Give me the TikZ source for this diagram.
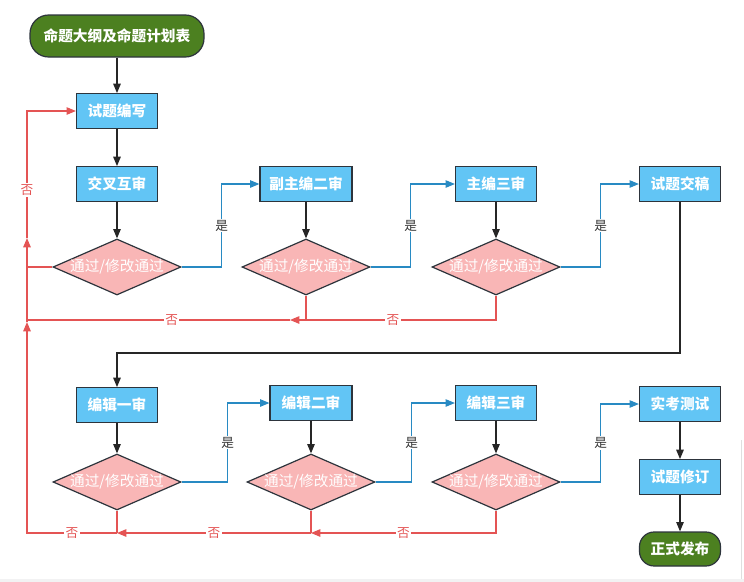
\documentclass[tikz,border=0pt]{standalone}
\usepackage{fontspec}
\newfontfamily\cjk{Noto Sans CJK SC}
\usetikzlibrary{shapes.geometric,arrows.meta}
\definecolor{boxblue}{RGB}{98,197,245}
\definecolor{pinkd}{RGB}{249,182,182}
\definecolor{greenn}{RGB}{76,128,32}
\definecolor{redl}{RGB}{228,84,84}
\definecolor{bluel}{RGB}{40,138,195}
\definecolor{edge}{RGB}{45,52,60}
\begin{document}
\begin{tikzpicture}[x=0.75pt,y=-0.75pt,
 txt/.style={font=\cjk\fontsize{11}{13}\selectfont},
 box/.style={txt, draw=edge, line width=0.9pt, fill=boxblue, text=white, font=\cjk\bfseries\fontsize{11}{13}\selectfont, minimum width=60.75pt, minimum height=26pt, inner sep=0pt},
 term/.style={box, fill=greenn, draw=edge, text=white},
 dia/.style={diamond, draw=edge, fill=pinkd, minimum width=96pt, minimum height=42pt, inner sep=0pt, line width=0.9pt},
 dtext/.style={text=white, font=\cjk\fontsize{11}{13}\selectfont},
 tip/.style={-{Triangle[length=7pt,width=5.6pt]}},
 flow/.style={draw=black!85, line width=0.85pt},
 yes/.style={draw=bluel, line width=0.85pt},
 no/.style={draw=redl, line width=0.85pt},
 ylab/.style={fill=white, inner sep=1pt, text=black!80, font=\cjk\fontsize{9.5}{11}\selectfont},
 nlab/.style={fill=white, inner sep=1pt, text=redl, font=\cjk\fontsize{9.5}{11}\selectfont}
]
\useasboundingbox (0,0) rectangle (744,582);
\fill[white] (0,0) rectangle (744,582);
\fill[blue!4!gray!10] (0,579) rectangle (744,582);
\draw[gray!25, line width=0.6pt] (741.5,440) -- (741.5,579);

% nodes
\node[term, minimum width=130.5pt, minimum height=31.5pt, rounded corners=14pt] (start) at (117,36) {命题大纲及命题计划表};
\node[box] (b1) at (117,111) {试题编写};
\node[box] (b2) at (117,184) {交叉互审};
\node[dia, label={[dtext]center:通过/修改通过}] (d1) at (117,267) {};
\node[box, minimum width=69pt] (b3) at (306,184) {副主编二审};
\node[dia, label={[dtext]center:通过/修改通过}] (d2) at (306,267) {};
\node[box] (b4) at (496,184) {主编三审};
\node[dia, label={[dtext]center:通过/修改通过}] (d3) at (496,267) {};
\node[box] (b5) at (680,184) {试题交稿};

\node[box] (b6) at (117,405) {编辑一审};
\node[dia, label={[dtext]center:通过/修改通过}] (d4) at (117,482) {};
\node[box, minimum width=61.5pt] (b7) at (311,403) {编辑二审};
\node[dia, label={[dtext]center:通过/修改通过}] (d5) at (311,482) {};
\node[box] (b8) at (496,403) {编辑三审};
\node[dia, label={[dtext]center:通过/修改通过}] (d6) at (496,482) {};
\node[box] (b9) at (680,404) {实考测试};
\node[box] (b10) at (680,477) {试题修订};
\node[term, minimum height=25.5pt, rounded corners=11pt] (end) at (680,549) {正式发布};

% coordinates
\coordinate (t1) at (680,353);
\coordinate (jt2) at (306,320);
\coordinate (at1) at (290,320);
\coordinate (l1) at (27,320);
\coordinate (l0) at (27,267);
\coordinate (jb5) at (311,533);
\coordinate (jb4) at (117,533);
\coordinate (la) at (27,322);
\coordinate (lb) at (27,238);

% black flow
\draw[flow,tip] (start) -- (b1);
\draw[flow,tip] (b1) -- (b2);
\draw[flow,tip] (b2) -- (d1);
\draw[flow,tip] (b3) -- (d2);
\draw[flow,tip] (b4) -- (d3);
\draw[flow,tip] (b5.south) -- (t1) -| (b6.north);
\draw[flow,tip] (b6) -- (d4);
\draw[flow,tip] (b7) -- (d5);
\draw[flow,tip] (b8) -- (d6);
\draw[flow,tip] (b9) -- (b10);
\draw[flow,tip] (b10) -- (end);

% yes
\draw[yes,tip] (d1.east) -- ++(40,0) |- node[ylab,pos=0.25] (y1) {是} (b3.west);
\draw[yes,tip] (d2.east) -- ++(40,0) |- node[ylab,pos=0.25] (y2) {是} (b4.west);
\draw[yes,tip] (d3.east) -- ++(40,0) |- node[ylab,pos=0.25] (y3) {是} (b5.west);
\draw[yes,tip] (d4.east) -- ++(46,0) |- node[ylab,pos=0.25] (y4) {是} (b7.west);
\draw[yes,tip] (d5.east) -- ++(36,0) |- node[ylab,pos=0.25] (y5) {是} (b8.west);
\draw[yes,tip] (d6.east) -- ++(40,0) |- node[ylab,pos=0.25] (y6) {是} (b9.west);

% no (top)
\draw[no,tip] (d3.south) |- node[nlab,pos=0.75] (n1) {否} (at1);
\draw[no] (d2.south) -- (jt2);
\draw[no] (at1) -- node[nlab,pos=0.45] (n2) {否} (l1);
\draw[no] (d1.west) -- (l0);

% no (bottom)
\draw[no,tip] (d6.south) |- node[nlab,pos=0.75] (n3) {否} (jb5);
\draw[no] (d5.south) -- (jb5);
\draw[no,tip] (jb5) -- node[nlab] (n4) {否} (jb4);
\draw[no] (d4.south) -- (jb4);
\draw[no,tip] (jb4) -| node[nlab,pos=0.25] (n5) {否} (la);
\draw[no,tip] (la) -- (lb);
\draw[no,tip] (lb) |- node[nlab,pos=0.19] (n6) {否} (b1.west);
\end{tikzpicture}
\end{document}
